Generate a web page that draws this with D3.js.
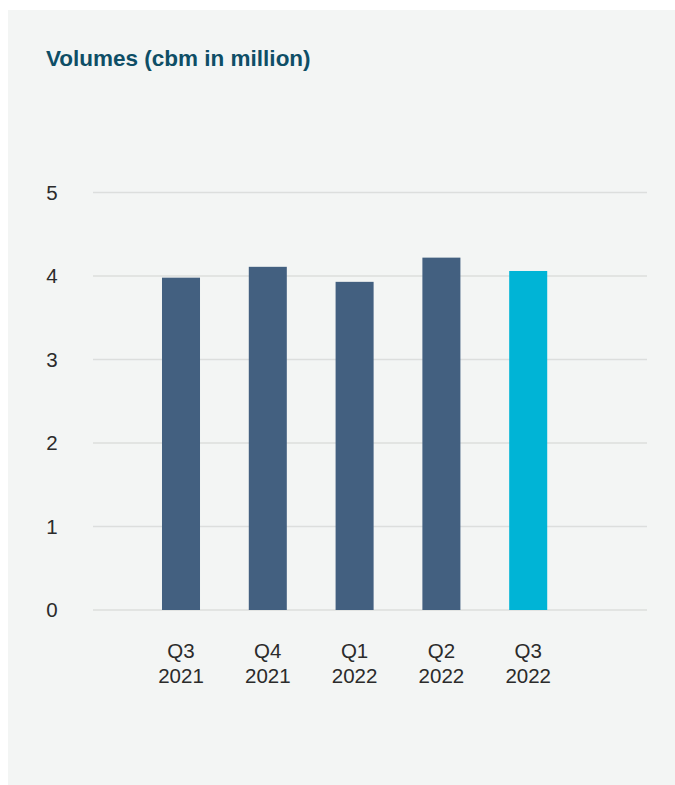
<!DOCTYPE html>
<html>
<head>
<meta charset="utf-8">
<script src="https://cdn.jsdelivr.net/npm/d3@7"></script>
<style>
  html, body { margin: 0; padding: 0; background: #ffffff; }
  svg { display: block; }
  text { font-family: "Liberation Sans", Arial, Helvetica, sans-serif; }
</style>
</head>
<body>
<svg id="chart" width="675" height="785"></svg>
<script>
const categories = ["Q3 2021", "Q4 2021", "Q1 2022", "Q2 2022", "Q3 2022"];
const values = [3.98, 4.11, 3.93, 4.22, 4.06];
const highlight = [false, false, false, false, true];
const yTicks = [0, 1, 2, 3, 4, 5];
const title = "Volumes (cbm in million)";

const svg = d3.select("#chart");
svg.append("rect").attr("x", 8).attr("y", 10).attr("width", 667).attr("height", 775).attr("fill", "#f3f5f4");

svg.append("text").attr("x", 46).attr("y", 66)
  .attr("fill", "#0e4e66").attr("font-size", 22.5).attr("font-weight", 700)
  .text(title);

const y = d3.scaleLinear().domain([0, 5]).range([610, 192.5]);
const x = d3.scaleBand().domain(categories).range([137.6, 571.6]).paddingInner(0.562).paddingOuter(0.281);

const grid = svg.append("g");
grid.selectAll("line").data(yTicks).join("line")
  .attr("x1", 93).attr("x2", 647)
  .attr("y1", d => y(d)).attr("y2", d => y(d))
  .attr("stroke", "#dcdedd").attr("stroke-width", 1.5);

svg.append("g").selectAll("text").data(yTicks).join("text")
  .attr("x", 52).attr("y", d => y(d)).attr("dy", "0.35em")
  .attr("text-anchor", "middle").attr("font-size", 20.5).attr("fill", "#2b2b2b")
  .text(d => d);

svg.append("g").selectAll("rect").data(categories).join("rect")
  .attr("x", d => x(d)).attr("width", x.bandwidth())
  .attr("y", (d, i) => y(values[i])).attr("height", (d, i) => y(0) - y(values[i]))
  .attr("fill", (d, i) => highlight[i] ? "#00b4d6" : "#436080");

const xl = svg.append("g").selectAll("text").data(categories).join("text")
  .attr("text-anchor", "middle").attr("font-size", 20.5).attr("fill", "#2b2b2b");
xl.each(function(d) {
  const parts = d.split(" ");
  const t = d3.select(this);
  t.append("tspan").attr("x", x(d) + x.bandwidth() / 2).attr("y", 658).text(parts[0]);
  t.append("tspan").attr("x", x(d) + x.bandwidth() / 2).attr("y", 683).text(parts[1]);
});
</script>
</body>
</html>
